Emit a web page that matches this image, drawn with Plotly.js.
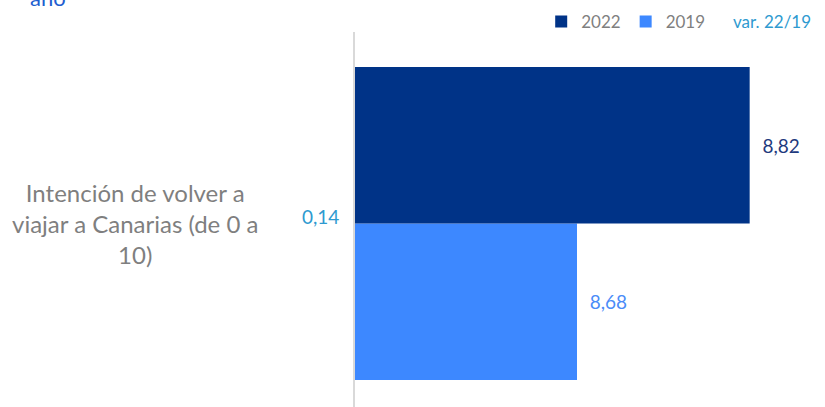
<!DOCTYPE html>
<html>
<head>
<meta charset="utf-8">
<script src="https://cdn.plot.ly/plotly-3.0.1.min.js"></script>
<style>html,body{margin:0;padding:0;background:#fff;}#chart{width:825px;height:407px;}</style>
</head>
<body>
<div id="chart"></div>
<script>
// ---- data ----
const categories = ['Intención de volver a viajar a Canarias (de 0 a 10)'];
const categoryLabels = ['Intención de volver a<br>viajar a Canarias (de 0 a<br>10)'];
const seriesNames = ['2022', '2019'];
const values2022 = [8.82];
const values2019 = [8.68];
const variation = [0.14];
const varLabel = 'var. 22/19';
const titleTail = 'año';

const fmt = v => v.toFixed(2).replace('.', ',');

const traces = [
  {
    type: 'bar', orientation: 'h', name: seriesNames[1],
    x: values2019, y: categories,
    marker: {color: '#3d88ff', line: {width: 0}},
    text: values2019.map(v => '\u00a0\u00a0' + fmt(v)),
    textposition: 'outside', constraintext: 'none', cliponaxis: false,
    textfont: {family: 'Lato, sans-serif', size: 19, color: '#4a8cf8'},
    hoverinfo: 'skip'
  },
  {
    type: 'bar', orientation: 'h', name: seriesNames[0],
    x: values2022, y: categories,
    marker: {color: '#003387', line: {width: 0}},
    text: values2022.map(v => '\u00a0\u00a0' + fmt(v)),
    textposition: 'outside', constraintext: 'none', cliponaxis: false,
    textfont: {family: 'Lato, sans-serif', size: 19, color: '#1f3a7e'},
    hoverinfo: 'skip'
  }
];

const annotations = [
  {
    text: categoryLabels[0], xref: 'paper', yref: 'y', x: -0.4955, y: categories[0],
    xanchor: 'center', yanchor: 'middle', align: 'center', showarrow: false,
    font: {family: 'Lato, sans-serif', size: 24, color: '#7f7f7f'}
  },
  {
    text: fmt(variation[0]), xref: 'paper', yref: 'y', x: 0, y: categories[0],
    xanchor: 'right', yanchor: 'middle', xshift: -14, yshift: 7, showarrow: false,
    font: {family: 'Lato, sans-serif', size: 19, color: '#2e9ad0'}
  },
  {
    text: varLabel, xref: 'paper', yref: 'paper', x: 1.0315, y: 1.0267,
    xanchor: 'right', yanchor: 'middle', showarrow: false,
    font: {family: 'Lato, sans-serif', size: 17, color: '#2e9ad0'}
  },
  {
    text: titleTail, xref: 'paper', yref: 'paper', x: -0.737, y: 1.0915,
    xanchor: 'left', yanchor: 'middle', showarrow: false,
    font: {family: 'Lato, sans-serif', size: 22, color: '#1f5fd0'}
  }
];

const layout = {
  width: 825, height: 407,
  margin: {l: 355, r: 26, t: 32, b: 0, pad: 0},
  paper_bgcolor: '#ffffff', plot_bgcolor: '#ffffff',
  barmode: 'group', bargap: 0.165, bargroupgap: 0,
  showlegend: true,
  legend: {
    orientation: 'h', traceorder: 'reversed',
    x: 0.80, xanchor: 'right', y: 1.0267, yanchor: 'middle',
    font: {family: 'Lato, sans-serif', size: 17, color: '#7f7f7f'},
    bgcolor: 'rgba(0,0,0,0)'
  },
  xaxis: {
    range: [8.5, 8.86], showgrid: false, zeroline: false, showline: false,
    showticklabels: false, ticks: '', fixedrange: true
  },
  yaxis: {
    type: 'category', range: [-0.4893, 0.5107],
    showgrid: false, zeroline: false, showline: true, linecolor: '#d9d9d9', linewidth: 2,
    showticklabels: false, ticks: '', fixedrange: true
  },
  annotations: annotations,
  font: {family: 'Lato, sans-serif'}
};

Plotly.newPlot('chart', traces, layout, {displayModeBar: false, staticPlot: true});
</script>
</body>
</html>
